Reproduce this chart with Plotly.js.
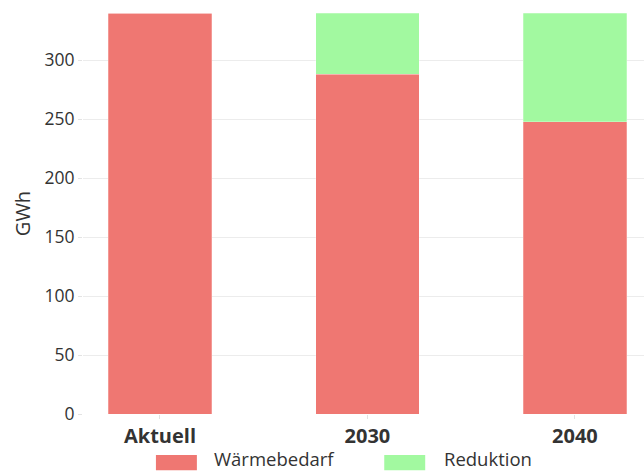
<!DOCTYPE html>
<html>
<head>
<meta charset="utf-8">
<script src="https://cdn.plot.ly/plotly-3.0.1.min.js"></script>
<style>html,body{margin:0;padding:0;background:#fff}#chart{width:644px;height:472px}</style>
</head>
<body>
<div id="chart"></div>
<script>
const categories = ['Aktuell', '2030', '2040'];
const waermebedarf = [340, 288, 248];
const reduktion = [0, 52, 92];
const seriesNames = ['Wärmebedarf', 'Reduktion'];
const yTicks = [0, 50, 100, 150, 200, 250, 300];

const colRed = '#EF7772';
const colGreen = '#A2F9A0';
const font = 'Open Sans, Lato, sans-serif';

const traces = [
  {type: 'bar', x: categories, y: waermebedarf, name: seriesNames[0], marker: {color: colRed, line: {color: 'rgba(255,255,255,0.5)', width: 0.5}}, showlegend: false, hoverinfo: 'y'},
  {type: 'bar', x: categories, y: reduktion, name: seriesNames[1], marker: {color: colGreen, line: {color: 'rgba(255,255,255,0.5)', width: 0.5}}, showlegend: false, hoverinfo: 'y'}
];

const layout = {
  width: 644, height: 472,
  margin: {l: 83, r: 0, t: 13, b: 58},
  paper_bgcolor: '#fff', plot_bgcolor: '#fff',
  barmode: 'stack', bargap: 0.5,
  font: {family: font, color: '#333'},
  xaxis: {
    type: 'category', range: [-0.371, 2.333],
    tickfont: {family: font, size: 20, color: '#333', weight: 'bold'},
    ticks: 'outside', ticklen: 4, tickcolor: '#e3e3e3', tickwidth: 1,
    showgrid: false, zeroline: false, showline: false
  },
  yaxis: {
    range: [0, 340], tickvals: yTicks,
    tickfont: {family: font, size: 17.5, color: '#333'},
    ticks: 'outside', ticklen: 4, tickcolor: '#e3e3e3',
    gridcolor: '#ececec', gridwidth: 1, zeroline: false, showline: false,
    title: {text: 'GWh', font: {family: font, size: 20, color: '#333'}, standoff: 8}
  },
  shapes: [
    {type: 'rect', xref: 'paper', yref: 'paper', x0: 0.130, x1: 0.203, y0: -0.102, y1: -0.140, fillcolor: colRed, line: {width: 0}},
    {type: 'rect', xref: 'paper', yref: 'paper', x0: 0.537, x1: 0.610, y0: -0.102, y1: -0.140, fillcolor: colGreen, line: {width: 0}}
  ],
  annotations: [
    {xref: 'paper', yref: 'paper', x: 0.232, y: -0.112, xanchor: 'left', yanchor: 'middle', borderpad: 0, text: seriesNames[0], showarrow: false, font: {family: font, size: 18.5, color: '#333'}},
    {xref: 'paper', yref: 'paper', x: 0.642, y: -0.112, xanchor: 'left', yanchor: 'middle', borderpad: 0, text: seriesNames[1], showarrow: false, font: {family: font, size: 18.5, color: '#333'}}
  ],
  showlegend: false
};

Plotly.newPlot('chart', traces, layout, {displayModeBar: false, staticPlot: true});
</script>
</body>
</html>
